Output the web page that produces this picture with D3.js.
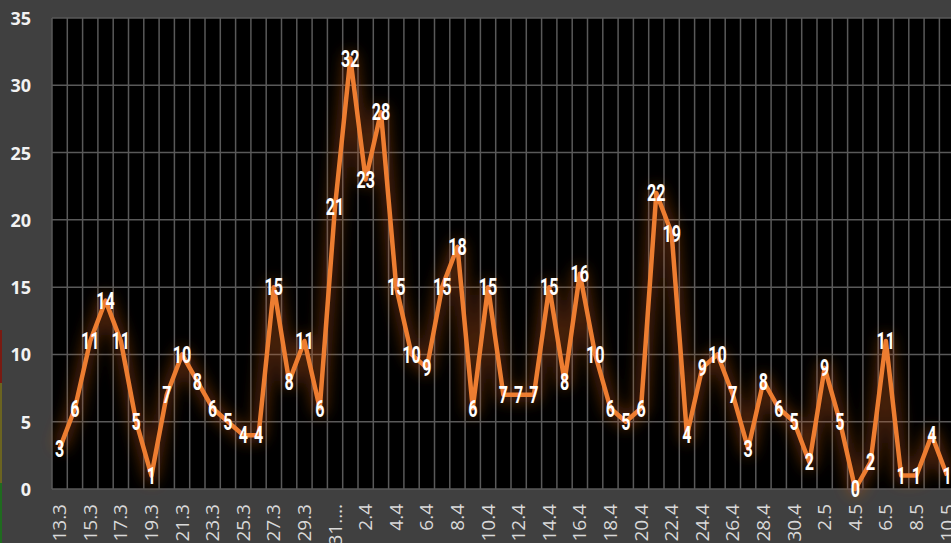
<!DOCTYPE html>
<html>
<head>
<meta charset="utf-8">
<script src="https://cdnjs.cloudflare.com/ajax/libs/d3/7.8.5/d3.min.js"></script>
<style>
    html, body { margin: 0; padding: 0; background: #404040; overflow: hidden; }
    svg { display: block; }
</style>
</head>
<body>
<svg id="chart" width="951" height="543"></svg>
<script>
const days = [
    "13.3", "14.3", "15.3", "16.3", "17.3", "18.3", "19.3", "20.3", "21.3", "22.3",
    "23.3", "24.3", "25.3", "26.3", "27.3", "28.3", "29.3", "30.3", "31.3",
    "1.4", "2.4", "3.4", "4.4", "5.4", "6.4", "7.4", "8.4", "9.4", "10.4",
    "11.4", "12.4", "13.4", "14.4", "15.4", "16.4", "17.4", "18.4", "19.4", "20.4",
    "21.4", "22.4", "23.4", "24.4", "25.4", "26.4", "27.4", "28.4", "29.4", "30.4",
    "1.5", "2.5", "3.5", "4.5", "5.5", "6.5", "7.5", "8.5", "9.5", "10.5"
];
const counts = [
    3, 6, 11, 14, 11, 5, 1, 7, 10, 8,
    6, 5, 4, 4, 15, 8, 11, 6, 21,
    32, 23, 28, 15, 10, 9, 15, 18, 6, 15,
    7, 7, 7, 15, 8, 16, 10, 6, 5, 6,
    22, 19, 4, 9, 10, 7, 3, 8, 6, 5,
    2, 9, 5, 0, 2, 11, 1, 1, 4, 1
];
const yTicks = [0, 5, 10, 15, 20, 25, 30, 35];

// the chart is cut off on the right, so the plot runs past the window
const plot = {left: 52, top: 18, bottom: 489, step: 15.3};
plot.right = plot.left + plot.step * days.length;

const svg = d3.select("#chart");

let x = d3.scaleBand().domain(days).range([plot.left, plot.right]).padding(0);
let y = d3.scaleLinear().domain([0, 35]).range([plot.bottom, plot.top]);
let cx = d => x(d) + x.bandwidth() / 2;

function drawBackground() {
    svg.append("rect").attr("width", 951).attr("height", 543).attr("fill", "#404040");
    svg.append("rect").attr("x", plot.left).attr("y", plot.top)
        .attr("width", plot.right - plot.left).attr("height", plot.bottom - plot.top)
        .attr("fill", "#000");

    // leftover border of a neighbouring shape at the window edge
    let strip = [{y1: 330, y2: 383, c: "#7a1a12"}, {y1: 383, y2: 483, c: "#6b6420"}, {y1: 483, y2: 543, c: "#1f6b1f"}];
    svg.selectAll(".strip").data(strip).enter().append("rect").attr("class", "strip")
        .attr("x", 0).attr("y", d => d.y1).attr("width", 2).attr("height", d => d.y2 - d.y1)
        .attr("fill", d => d.c);
}

function drawGrid() {
    let g = svg.append("g").attr("class", "grid");
    g.selectAll(".vline").data(days.concat(["end"])).enter().append("line")
        .attr("x1", (d, i) => plot.left + i * x.step()).attr("x2", (d, i) => plot.left + i * x.step())
        .attr("y1", plot.top).attr("y2", plot.bottom)
        .attr("stroke", "#595959").attr("stroke-width", 1.5);
    g.selectAll(".hline").data(yTicks).enter().append("line")
        .attr("x1", plot.left).attr("x2", plot.right)
        .attr("y1", d => y(d)).attr("y2", d => y(d))
        .attr("stroke", "#595959").attr("stroke-width", 1.5);
}

function drawAxes() {
    let yAxis = d3.axisLeft(y).tickValues(yTicks).tickSize(0).tickPadding(21);
    let gy = svg.append("g").attr("transform", `translate(${plot.left},0)`).call(yAxis);
    gy.select(".domain").remove();
    gy.selectAll("text").attr("fill", "#f2f2f2").style("font-family", "'Open Sans', sans-serif")
        .style("font-size", "18px").style("font-weight", "bold").attr("dy", "0.36em");

    let shown = days.filter((d, i) => i % 2 === 0);
    svg.append("g").selectAll("text").data(shown).enter().append("text")
        .attr("transform", d => `translate(${cx(d) + 6.5},504) rotate(-90)`)
        .attr("text-anchor", "end")
        .attr("fill", "#d9d9d9").style("font-family", "'Open Sans', sans-serif").style("font-size", "19px")
        .text(d => d === "31.3" ? "31.…" : d);
}

function drawLine() {
    let defs = svg.append("defs");
    let f = defs.append("filter").attr("id", "glow").attr("x", "-20%").attr("y", "-20%")
        .attr("width", "140%").attr("height", "140%");
    f.append("feGaussianBlur").attr("stdDeviation", 7);

    let line = d3.line().x((d, i) => cx(days[i])).y(d => y(d));

    svg.append("path").datum(counts).attr("d", line).attr("fill", "none")
        .attr("stroke", "#c55a11").attr("stroke-width", 16).attr("stroke-opacity", 0.35)
        .attr("stroke-linejoin", "round").attr("filter", "url(#glow)");
    svg.append("path").datum(counts).attr("d", line).attr("fill", "none")
        .attr("stroke", "#ed7d31").attr("stroke-width", 4.5).attr("stroke-linejoin", "round");
}

function drawLabels() {
    // narrow display face: squeeze a normal bold font horizontally
    svg.append("g").selectAll("text").data(counts).enter().append("text")
        .attr("transform", (d, i) => `translate(${cx(days[i])},${y(d)}) scale(0.7,1)`)
        .attr("dy", "0.36em").attr("text-anchor", "middle")
        .attr("fill", "#fff").style("font-family", "Roboto, sans-serif")
        .style("font-size", "23px").style("font-weight", "bold")
        .text(d => d);
}

drawBackground();
drawGrid();
drawLine();
drawLabels();
drawAxes();
</script>
</body>
</html>
